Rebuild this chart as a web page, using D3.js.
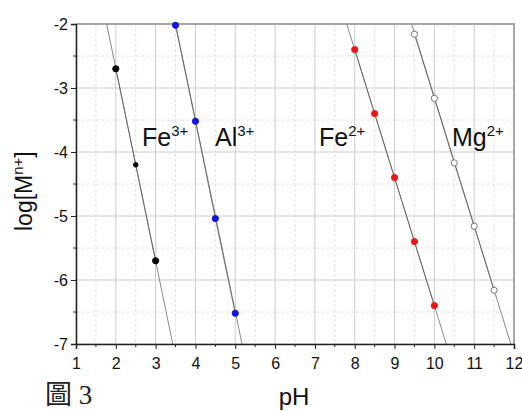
<!DOCTYPE html>
<html>
<head>
<meta charset="utf-8">
<script src="https://cdn.jsdelivr.net/npm/d3@7"></script>
<style>
  body { margin: 0; background: #fff; }
  text { font-family: "Liberation Sans", Arial, sans-serif; }
</style>
</head>
<body>
<div id="wrapper"></div>
<script>
// values
const fe3pH = [2, 2.5, 3];
const fe3Log = [-2.7, -4.2, -5.7];
const al3pH = [3.5, 4, 4.5, 5];
const al3Log = [-2.02, -3.52, -5.04, -6.52];
const fe2pH = [8, 8.5, 9, 9.5, 10];
const fe2Log = [-2.4, -3.4, -4.4, -5.4, -6.4];
const mg2pH = [9.5, 10, 10.5, 11, 11.5];
const mg2Log = [-2.16, -3.16, -4.17, -5.16, -6.16];

// where each guide line meets the top (-2) and bottom (-7) of the frame
const fe3Ends = [1.77, 3.43];
const al3Ends = [3.5, 5.17];
const fe2Ends = [7.8, 10.3];
const mg2Ends = [9.43, 11.92];

const xTicks = [1, 2, 3, 4, 5, 6, 7, 8, 9, 10, 11, 12];
const yTicks = [-2, -3, -4, -5, -6, -7];

const series = [
  { pH: fe3pH, log: fe3Log, ends: fe3Ends, fill: '#000', stroke: '#000', name: 'Fe', sup: '3+', lx: 142 },
  { pH: al3pH, log: al3Log, ends: al3Ends, fill: '#1414e6', stroke: '#1414e6', name: 'Al', sup: '3+', lx: 215 },
  { pH: fe2pH, log: fe2Log, ends: fe2Ends, fill: '#e81818', stroke: '#e81818', name: 'Fe', sup: '2+', lx: 319 },
  { pH: mg2pH, log: mg2Log, ends: mg2Ends, fill: '#fff', stroke: '#777', name: 'Mg', sup: '2+', lx: 452 },
];

const dimensions = {
  width: 522,
  height: 411,
  margin: { top: 24, right: 8, bottom: 67, left: 76 },
};
dimensions.boundedWidth = dimensions.width - dimensions.margin.left - dimensions.margin.right;
dimensions.boundedHeight = dimensions.height - dimensions.margin.top - dimensions.margin.bottom;

const wrapper = d3.select('#wrapper')
  .append('svg')
  .attr('width', dimensions.width)
  .attr('height', dimensions.height);

const bounds = wrapper.append('g')
  .attr('transform', `translate(${dimensions.margin.left},${dimensions.margin.top})`);

const xScale = d3.scaleLinear().domain([1, 12]).range([0, dimensions.boundedWidth]);
const yScale = d3.scaleLinear().domain([-7, -2]).range([dimensions.boundedHeight, 0]);

// minor grid (half steps)
const xMinor = d3.range(1.5, 12, 1);
const yMinor = d3.range(-6.5, -2, 1);
bounds.append('g').selectAll('line').data(xMinor).join('line')
  .attr('x1', d => xScale(d)).attr('x2', d => xScale(d))
  .attr('y1', 0).attr('y2', dimensions.boundedHeight)
  .attr('stroke', '#e2e2e2').attr('stroke-dasharray', '3 2');
bounds.append('g').selectAll('line').data(yMinor).join('line')
  .attr('y1', d => yScale(d)).attr('y2', d => yScale(d))
  .attr('x1', 0).attr('x2', dimensions.boundedWidth)
  .attr('stroke', '#e2e2e2').attr('stroke-dasharray', '3 2');

// major grid
bounds.append('g').selectAll('line').data(xTicks).join('line')
  .attr('x1', d => xScale(d)).attr('x2', d => xScale(d))
  .attr('y1', 0).attr('y2', dimensions.boundedHeight)
  .attr('stroke', '#cccccc');
bounds.append('g').selectAll('line').data(yTicks).join('line')
  .attr('y1', d => yScale(d)).attr('y2', d => yScale(d))
  .attr('x1', 0).attr('x2', dimensions.boundedWidth)
  .attr('stroke', '#cccccc');

// top and right frame
bounds.append('path')
  .attr('d', `M0,0H${dimensions.boundedWidth}V${dimensions.boundedHeight}`)
  .attr('fill', 'none').attr('stroke', '#a8a8a8').attr('stroke-width', 2);

// guide lines and data
const lineGen = d3.line().x(d => xScale(d[0])).y(d => yScale(d[1]));
series.forEach(s => {
  bounds.append('path')
    .attr('d', lineGen([[s.ends[0], -2], [s.ends[1], -7]]))
    .attr('fill', 'none').attr('stroke', '#8a8a8a').attr('stroke-width', 1);
  bounds.append('path')
    .attr('d', lineGen(s.pH.map((p, i) => [p, s.log[i]])))
    .attr('fill', 'none').attr('stroke', '#555').attr('stroke-width', 0.7);
  bounds.append('g').selectAll('circle').data(s.pH).join('circle')
    .attr('cx', d => xScale(d))
    .attr('cy', (d, i) => yScale(s.log[i]))
    .attr('r', (d, i) => (s === series[0] && i === 1) ? 2.3 : 3.1)
    .attr('fill', s.fill)
    .attr('stroke', s.stroke)
    .attr('stroke-width', 1);
});

// axes
const xAxis = d3.axisBottom(xScale).tickValues(xTicks).tickFormat(d => String(d))
  .tickSize(5).tickPadding(9);
const xAxisGroup = bounds.append('g')
  .attr('transform', `translate(0,${dimensions.boundedHeight})`)
  .call(xAxis);
xAxisGroup.selectAll('text').style('font-size', '16px').attr('fill', '#111');
xAxisGroup.append('g').selectAll('line').data(xMinor).join('line')
  .attr('x1', d => xScale(d)).attr('x2', d => xScale(d))
  .attr('y1', 0).attr('y2', 3).attr('stroke', '#222');

const yAxis = d3.axisLeft(yScale).tickValues(yTicks).tickFormat(d => String(d))
  .tickSize(5).tickPadding(3);
const yAxisGroup = bounds.append('g').call(yAxis);
yAxisGroup.selectAll('text').style('font-size', '16px').attr('fill', '#111');
yAxisGroup.append('g').selectAll('line').data(yMinor).join('line')
  .attr('y1', d => yScale(d)).attr('y2', d => yScale(d))
  .attr('x1', 0).attr('x2', -3).attr('stroke', '#222');

[xAxisGroup, yAxisGroup].forEach(g => {
  g.select('.domain').attr('stroke', '#222').attr('stroke-width', 1.5);
  g.selectAll('.tick line').attr('stroke', '#222');
});

// species labels
series.forEach(s => {
  const t = wrapper.append('text')
    .attr('x', s.lx).attr('y', 146)
    .style('font-size', '25px').attr('fill', '#111');
  t.append('tspan').text(s.name);
  t.append('tspan').text(s.sup).attr('dy', -10).style('font-size', '15px');
});

// axis titles
wrapper.append('text')
  .attr('x', 294).attr('y', 405)
  .attr('text-anchor', 'middle')
  .style('font-size', '24px').attr('fill', '#111')
  .text('pH');

const yTitle = wrapper.append('text')
  .attr('transform', 'translate(32,231) rotate(-90)')
  .style('font-size', '23px').attr('fill', '#111');
yTitle.append('tspan').text('log[M');
yTitle.append('tspan').text('n+').attr('dy', -9).style('font-size', '15px');
yTitle.append('tspan').text(']').attr('dy', 9);

// figure caption
wrapper.append('text')
  .attr('x', 45).attr('y', 404)
  .style('font-family', '"Liberation Serif", "Noto Sans CJK TC", serif')
  .style('font-size', '27px').attr('fill', '#222')
  .text('圖 3');
</script>
</body>
</html>
